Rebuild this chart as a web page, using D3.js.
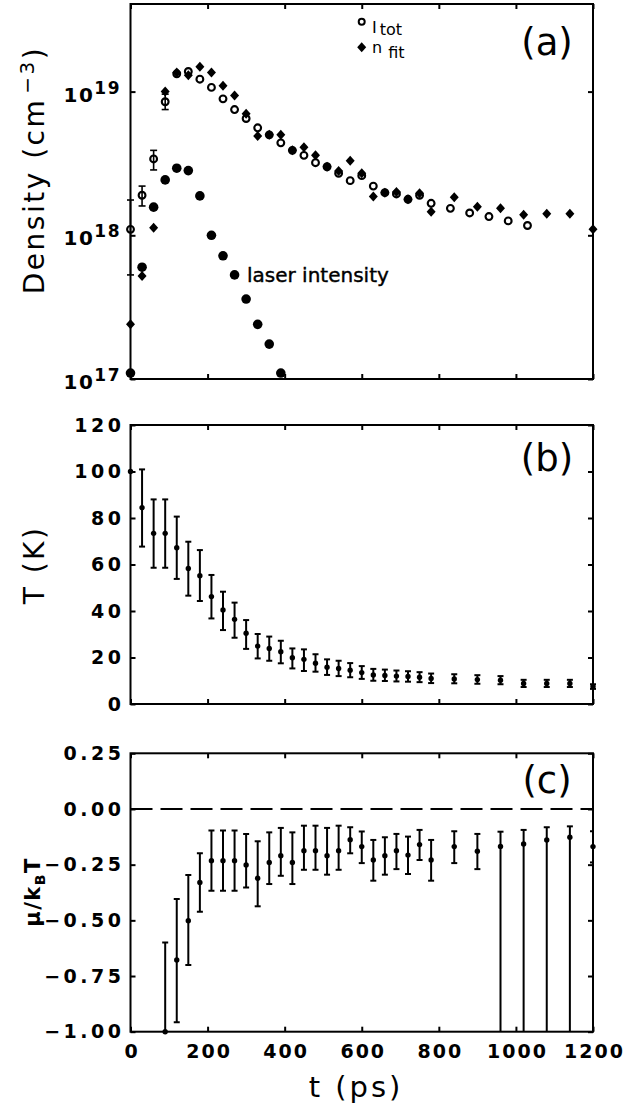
<!DOCTYPE html>
<html>
<head>
<meta charset="utf-8">
<script src="https://cdn.jsdelivr.net/npm/d3@7/dist/d3.min.js"></script>
<style>
  body { margin: 0; background: #fff; }
  text { font-family: "DejaVu Sans", sans-serif; fill: #000; }
</style>
</head>
<body>
<div id="chart"></div>
<script>
"use strict";

// ---- data ----
// (a) density, I_tot (open circles)
var tTot = [0, 30, 60, 90, 120, 150, 180, 210, 240, 270, 300, 330, 360, 390, 420, 450, 480, 510, 540, 570,
            600, 630, 660, 690, 720, 750, 780, 830, 880, 930, 980, 1030];
var iTot = [1.1e18, 1.9e18, 3.4e18, 8.5e18, 1.33e19, 1.38e19, 1.22e19, 1.07e19, 8.9e18, 7.5e18, 6.5e18, 5.6e18,
            5.0e18, 4.4e18, 3.9e18, 3.6e18, 3.2e18, 3.0e18, 2.7e18, 2.4e18,
            2.6e18, 2.2e18, 1.98e18, 1.94e18, 1.78e18, 1.9e18, 1.67e18, 1.54e18, 1.43e18, 1.35e18, 1.26e18, 1.17e18];
// error bars on the first four I_tot points
var iTotLo = [5.3e17, 1.6e18, 2.85e18, 7.5e18];
var iTotHi = [1.76e18, 2.2e18, 3.9e18, 9.6e18];

// (a) density, n_fit (diamonds)
var tFit = [0, 30, 60, 90, 120, 150, 180, 210, 240, 270, 300, 330, 360, 390, 420, 450, 480, 510, 540, 570,
            600, 630, 660, 690, 720, 750, 780, 840, 900, 960, 1020, 1080, 1140, 1200];
var nFit = [2.4e17, 5.2e17, 1.13e18, 1.0e19, 1.36e19, 1.30e19, 1.49e19, 1.36e19, 1.10e19, 9.4e18, 7.0e18, 4.9e18,
            5.0e18, 5.0e18, 3.9e18, 4.1e18, 3.6e18, 3.0e18, 2.8e18, 3.3e18,
            2.7e18, 1.86e18, 1.98e18, 2.0e18, 1.78e18, 1.96e18, 1.46e18, 1.84e18, 1.58e18, 1.54e18, 1.39e18,
            1.41e18, 1.41e18, 1.1e18];

// (a) laser intensity (filled circles)
var tLaser = [0, 30, 60, 90, 120, 150, 180, 210, 240, 270, 300, 330, 360, 390];
var laser = [1.1e17, 6.0e17, 1.57e18, 2.43e18, 2.93e18, 2.82e18, 1.88e18, 1.0e18, 7.2e17, 5.3e17, 3.6e17,
             2.4e17, 1.75e17, 1.1e17];

// (b) temperature (K)
var tTemp = [0, 30, 60, 90, 120, 150, 180, 210, 240, 270, 300, 330, 360, 390, 420, 450, 480, 510, 540, 570,
             600, 630, 660, 690, 720, 750, 780, 840, 900, 960, 1020, 1080, 1140, 1200];
var temp = [100, 84.4, 73.4, 73.4, 67.2, 58.3, 55.2, 46.2, 40.4, 36.4, 30.4, 24.9, 23.9, 22.5, 19.9, 19.2, 17.5,
            15.8, 15.3, 14.5, 13.5, 12.5, 12.3, 12.0, 11.8, 11.5, 11.0, 10.8, 10.5, 10.2, 8.8, 8.8, 8.8, 7.5];
var tempLo = [100, 67.7, 58.6, 58.6, 53.8, 46.6, 44.3, 36.8, 31.8, 28.5, 23.7, 19.6, 18.6, 17.5, 15.3, 14.2, 13.9,
              12.5, 12.0, 11.5, 10.8, 10.0, 9.9, 9.7, 9.6, 9.4, 9.0, 8.9, 8.7, 8.5, 7.3, 7.3, 7.3, 6.5];
var tempHi = [100, 100.9, 88.0, 88.0, 80.6, 69.8, 66.2, 55.5, 48.3, 43.6, 36.1, 30.1, 29.0, 27.2, 23.9, 23.5, 21.4,
              19.2, 18.6, 17.6, 16.3, 15.1, 14.8, 14.4, 14.1, 13.7, 13.1, 12.8, 12.4, 12.0, 10.4, 10.4, 10.4, 8.5];

// (c) mu / kB T
var tMu = [90, 120, 150, 180, 210, 240, 270, 300, 330, 360, 390, 420, 450, 480, 510, 540, 570,
           600, 630, 660, 690, 720, 750, 780, 840, 900, 960, 1020, 1080, 1140, 1200];
var mu = [-1.0, -0.678, -0.502, -0.330, -0.232, -0.232, -0.232, -0.251, -0.311, -0.240, -0.210, -0.240, -0.187,
          -0.187, -0.210, -0.187, -0.138, -0.169, -0.229, -0.210, -0.187, -0.207, -0.160, -0.229, -0.169, -0.190,
          -0.168, -0.157, -0.139, -0.127, -0.169];
var muHi = [-0.599, -0.404, -0.296, -0.199, -0.097, -0.097, -0.097, -0.112, -0.145, -0.105, -0.085, -0.105, -0.075,
            -0.075, -0.085, -0.075, -0.082, -0.101, -0.139, -0.127, -0.112, -0.124, -0.094, -0.139, -0.100, -0.112,
            -0.102, -0.094, -0.082, -0.078, -0.100];
var muLo = [-1.5, -0.958, -0.700, -0.461, -0.367, -0.367, -0.367, -0.352, -0.437, -0.337, -0.300, -0.337, -0.273,
            -0.273, -0.295, -0.273, -0.199, -0.243, -0.322, -0.295, -0.270, -0.292, -0.229, -0.322, -0.243, -0.270,
            -1.5, -1.5, -1.5, -1.5, -0.240];

var xTicks = [0, 200, 400, 600, 800, 1000, 1200];
var densTicks = [1e17, 1e18, 1e19];
var tempTicks = [0, 20, 40, 60, 80, 100, 120];
var muTicks = [-1.0, -0.75, -0.5, -0.25, 0, 0.25];

// ---- layout ----
var svg = d3.select("#chart").append("svg")
  .attr("width", 624).attr("height", 1105);

var x = d3.scaleLinear().domain([0, 1200]).range([130.5, 593]);
var yA = d3.scaleLog().domain([1e17, 4.07e19]).range([379, 4]);
var yB = d3.scaleLinear().domain([0, 120]).range([704, 425]);
var yC = d3.scaleLinear().domain([-1, 0.25]).range([1031.7, 753.3]);

var zip = function (a, b) { return a.map(function (v, i) { return [v, b[i]]; }); };

// frame plus inward ticks on all four sides
function frame(y, yTicks) {
  var g = svg.append("g");
  var top = y.range()[1], bot = y.range()[0];
  var left = x.range()[0], right = x.range()[1];

  g.append("g").attr("transform", "translate(0," + bot + ")")
    .call(d3.axisBottom(x).tickValues(xTicks).tickSize(-5).tickFormat(""));
  g.append("g").attr("transform", "translate(0," + top + ")")
    .call(d3.axisTop(x).tickValues(xTicks).tickSize(-5).tickFormat(""));
  g.append("g").attr("transform", "translate(" + left + ",0)")
    .call(d3.axisLeft(y).tickValues(yTicks).tickSize(-5).tickFormat(""));
  g.append("g").attr("transform", "translate(" + right + ",0)")
    .call(d3.axisRight(y).tickValues(yTicks).tickSize(-5).tickFormat(""));
  g.selectAll(".domain").remove();
  g.selectAll(".tick line").attr("stroke", "#000").attr("stroke-width", 2);

  g.append("rect")
    .attr("x", left).attr("y", top)
    .attr("width", right - left).attr("height", bot - top)
    .attr("fill", "none").attr("stroke", "#000").attr("stroke-width", 2);
  return g;
}

// wide, heavy digits like the original typeset labels
var tickFont = function (sel) {
  sel.attr("font-size", 19).attr("font-weight", "bold").attr("letter-spacing", 3.5);
};

// ===== panel (a) =====
frame(yA, densTicks);

svg.append("g").selectAll("text")
  .data(densTicks).enter().append("text")
  .attr("x", 121).attr("y", function (d) { return yA(d) + 10; })
  .attr("text-anchor", "end")
  .attr("font-size", 20).attr("font-weight", "bold").attr("letter-spacing", 1.5)
  .each(function (d) {
    var t = d3.select(this);
    t.append("tspan").text("10");
    t.append("tspan").attr("dy", -8).attr("font-size", 17).text(Math.round(Math.log10(d)));
  });

// I_tot error bars
var errG = svg.append("g").attr("stroke", "#000").attr("stroke-width", 1.6);
iTotLo.forEach(function (lo, i) {
  var cx = x(tTot[i]), y1 = yA(lo), y2 = yA(iTotHi[i]);
  errG.append("line").attr("x1", cx).attr("x2", cx).attr("y1", y1).attr("y2", y2);
  errG.append("line").attr("x1", cx - 3.5).attr("x2", cx + 3.5).attr("y1", y1).attr("y2", y1);
  errG.append("line").attr("x1", cx - 3.5).attr("x2", cx + 3.5).attr("y1", y2).attr("y2", y2);
});

var diamond = "M0,-5L4.5,0L0,5L-4.5,0Z";

svg.append("g").selectAll("path")
  .data(zip(tFit, nFit)).enter().append("path")
  .attr("d", diamond)
  .attr("transform", function (d) { return "translate(" + x(d[0]) + "," + yA(d[1]) + ")"; })
  .attr("fill", "#000");

svg.append("g").selectAll("circle")
  .data(zip(tTot, iTot)).enter().append("circle")
  .attr("cx", function (d) { return x(d[0]); })
  .attr("cy", function (d) { return yA(d[1]); })
  .attr("r", 3.4)
  .attr("fill", "none").attr("stroke", "#000").attr("stroke-width", 2.1);

svg.append("g").selectAll("circle")
  .data(zip(tLaser, laser)).enter().append("circle")
  .attr("cx", function (d) { return x(d[0]); })
  .attr("cy", function (d) { return yA(d[1]); })
  .attr("r", 4.8).attr("fill", "#000");

svg.append("text").attr("x", 247).attr("y", 282)
  .attr("font-size", 20).attr("stroke", "#000").attr("stroke-width", 0.4)
  .text("laser intensity");

// legend
svg.append("circle").attr("cx", 361.7).attr("cy", 21.7).attr("r", 3)
  .attr("fill", "none").attr("stroke", "#000").attr("stroke-width", 2);
svg.append("path").attr("d", diamond).attr("transform", "translate(361.7,47.3)");
var lg1 = svg.append("text").attr("x", 372).attr("y", 33).attr("font-size", 16);
lg1.append("tspan").text("I");
lg1.append("tspan").attr("dx", 3).attr("dy", 2).text("tot");
var lg2 = svg.append("text").attr("x", 372).attr("y", 53).attr("font-size", 16);
lg2.append("tspan").text("n");
lg2.append("tspan").attr("dx", 6).attr("dy", 5).text("fit");

svg.append("text").attr("x", 547).attr("y", 55).attr("text-anchor", "middle")
  .attr("font-size", 37).text("(a)");

svg.append("text")
  .attr("transform", "translate(44,170) rotate(-90)")
  .attr("text-anchor", "middle").attr("font-size", 28).attr("letter-spacing", 2.5)
  .each(function () {
    var t = d3.select(this);
    t.append("tspan").text("Density (cm");
    t.append("tspan").attr("dx", 4).attr("dy", -10).attr("font-size", 20).text("\u22123");
    t.append("tspan").attr("dy", 10).text(")");
  });

// ===== panel (b) =====
frame(yB, tempTicks);

svg.append("g").attr("transform", "translate(" + x.range()[0] + ",0)")
  .call(d3.axisLeft(yB).tickValues(tempTicks).tickSize(0).tickPadding(6).tickFormat(d3.format("d")))
  .call(function (g) { g.select(".domain").remove(); })
  .selectAll("text").call(tickFont);

function errorBars(y, ts, vals, los, his, clipId) {
  var g = svg.append("g");
  var bars = g.append("g").attr("stroke", "#000").attr("stroke-width", 2);
  if (clipId) bars.attr("clip-path", "url(#" + clipId + ")");
  ts.forEach(function (t, i) {
    var cx = x(t), y1 = y(los[i]), y2 = y(his[i]);
    if (Math.abs(y1 - y2) < 0.5) return;
    bars.append("line").attr("x1", cx).attr("x2", cx).attr("y1", y1).attr("y2", y2);
    bars.append("line").attr("x1", cx - 3).attr("x2", cx + 3).attr("y1", y1).attr("y2", y1);
    bars.append("line").attr("x1", cx - 3).attr("x2", cx + 3).attr("y1", y2).attr("y2", y2);
  });
  g.selectAll("circle").data(zip(ts, vals)).enter().append("circle")
    .attr("cx", function (d) { return x(d[0]); })
    .attr("cy", function (d) { return y(d[1]); })
    .attr("r", 2.7).attr("fill", "#000");
}

errorBars(yB, tTemp, temp, tempLo, tempHi, null);

svg.append("text").attr("x", 547).attr("y", 471).attr("text-anchor", "middle")
  .attr("font-size", 37).text("(b)");

svg.append("text")
  .attr("transform", "translate(44,565) rotate(-90)")
  .attr("text-anchor", "middle").attr("font-size", 28).attr("letter-spacing", 2.5)
  .text("T (K)");

// ===== panel (c) =====
frame(yC, muTicks);

svg.append("defs").append("clipPath").attr("id", "clipC")
  .append("rect").attr("x", x.range()[0]).attr("y", yC.range()[1])
  .attr("width", x.range()[1] - x.range()[0]).attr("height", yC.range()[0] - yC.range()[1]);

svg.append("line")
  .attr("x1", x.range()[0]).attr("x2", x.range()[1])
  .attr("y1", yC(0)).attr("y2", yC(0))
  .attr("stroke", "#000").attr("stroke-width", 2).attr("stroke-dasharray", "22,8");

svg.append("g").attr("transform", "translate(" + x.range()[0] + ",0)")
  .call(d3.axisLeft(yC).tickValues(muTicks).tickSize(0).tickPadding(6).tickFormat(d3.format(".2f")))
  .call(function (g) { g.select(".domain").remove(); })
  .selectAll("text").call(tickFont);

svg.append("g").attr("transform", "translate(0," + yC.range()[0] + ")")
  .call(d3.axisBottom(x).tickValues(xTicks).tickSize(0).tickPadding(13).tickFormat(d3.format("d")))
  .call(function (g) { g.select(".domain").remove(); })
  .selectAll("text").call(tickFont).attr("letter-spacing", 2).attr("dx", 1);

errorBars(yC, tMu, mu, muLo, muHi, "clipC");

svg.append("text").attr("x", 547).attr("y", 793).attr("text-anchor", "middle")
  .attr("font-size", 37).text("(c)");

svg.append("text")
  .attr("transform", "translate(40,892) rotate(-90)")
  .attr("text-anchor", "middle").attr("font-size", 21).attr("font-weight", "bold").attr("letter-spacing", 1.5)
  .each(function () {
    var t = d3.select(this);
    t.append("tspan").text("\u03bc/k");
    t.append("tspan").attr("dy", 5).attr("font-size", 14).text("B");
    t.append("tspan").attr("dy", -5).text("T");
  });

svg.append("text").attr("x", 356).attr("y", 1097).attr("text-anchor", "middle")
  .attr("font-size", 29).attr("letter-spacing", 3).text("t (ps)");
</script>
</body>
</html>
